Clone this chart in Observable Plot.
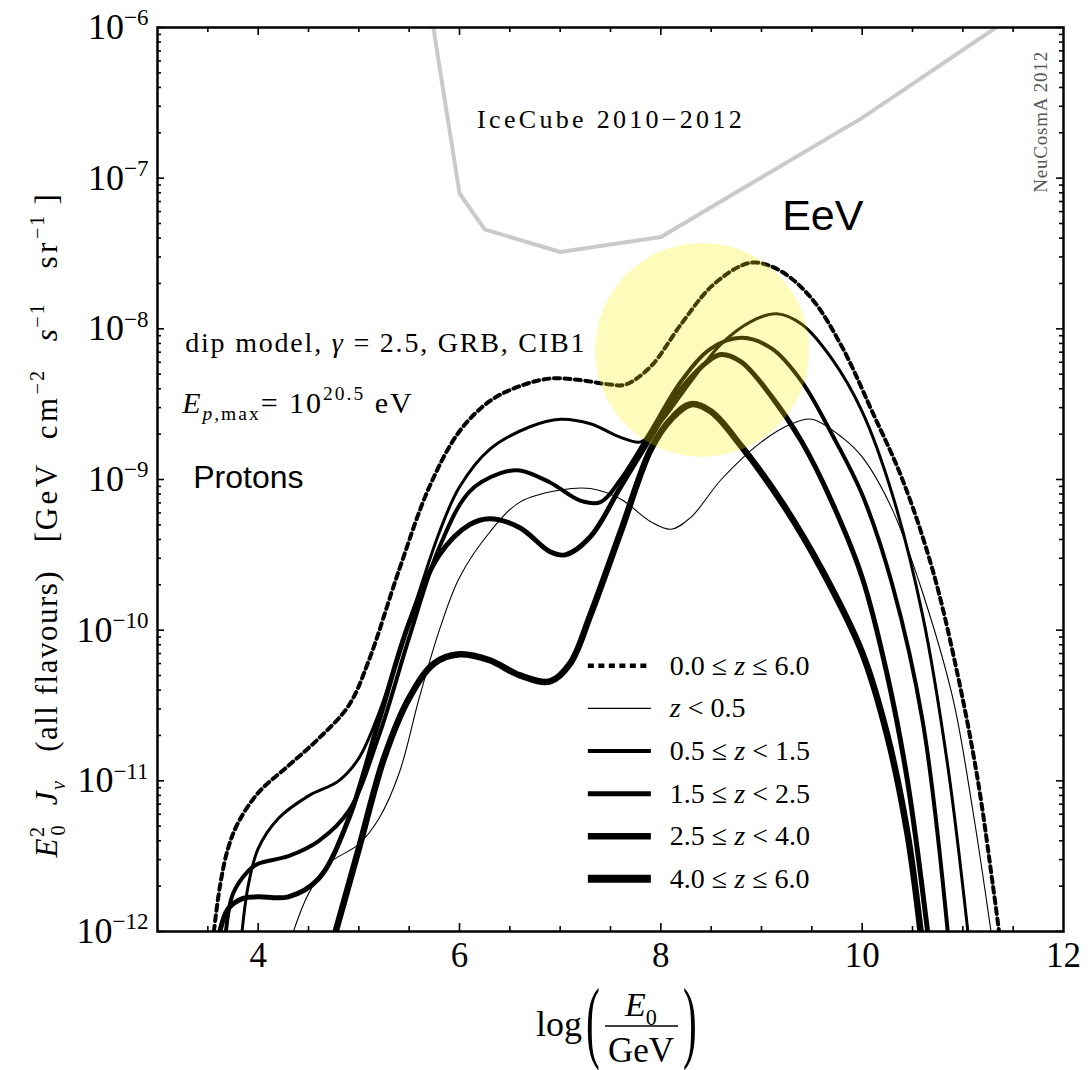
<!DOCTYPE html>
<html><head><meta charset="utf-8">
<script src="https://cdn.jsdelivr.net/npm/d3@7"></script>
<script src="https://cdn.jsdelivr.net/npm/@observablehq/plot@0.6"></script>
<style>
body{margin:0;background:#fff;}
#chart svg{display:block;}
</style>
</head><body><div id="chart"></div>
<script>
// ---------- data (x = log10(E0/GeV), values = log10 of E0^2 J in GeV cm^-2 s^-1 sr^-1) ----------
const seriesLabels = ["0.0 ≤ z ≤ 6.0", "z < 0.5", "0.5 ≤ z < 1.5", "1.5 ≤ z < 2.5", "2.5 ≤ z < 4.0", "4.0 ≤ z ≤ 6.0"];

const xAll = [3.56, 3.62, 3.7, 3.8, 4.0, 4.3, 4.6, 4.9, 5.1, 5.4, 5.7, 6.0, 6.3, 6.6, 6.9, 7.2, 7.5, 7.65, 7.9, 8.2, 8.5, 8.8, 8.95, 9.2, 9.5, 9.8, 10.1, 10.4, 10.7, 10.95, 11.15, 11.3, 11.36];
const logAll = [-12, -11.7, -11.45, -11.28, -11.08, -10.9, -10.72, -10.5, -10.2, -9.6, -9.05, -8.68, -8.48, -8.38, -8.33, -8.34, -8.37, -8.37, -8.25, -7.97, -7.72, -7.58, -7.56, -7.62, -7.8, -8.12, -8.55, -9.0, -9.6, -10.3, -11.0, -11.7, -12];

const xZ0 = [4.35, 4.5, 4.7, 5.0, 5.2, 5.4, 5.6, 5.8, 6.0, 6.3, 6.6, 7.0, 7.3, 7.6, 7.9, 8.1, 8.3, 8.6, 9.0, 9.3, 9.5, 9.8, 10.0, 10.3, 10.6, 10.9, 11.1, 11.28];
const logZ0 = [-12, -11.75, -11.55, -11.42, -11.25, -10.95, -10.45, -10.0, -9.65, -9.35, -9.15, -9.07, -9.06, -9.13, -9.28, -9.33, -9.25, -9.0, -8.75, -8.63, -8.6, -8.72, -8.85, -9.2, -9.75, -10.45, -11.2, -12];

const xZ1 = [3.84, 3.9, 4.0, 4.2, 4.5, 4.8, 5.0, 5.2, 5.5, 5.8, 6.0, 6.3, 6.7, 7.0, 7.3, 7.6, 7.8, 8.0, 8.3, 8.6, 8.9, 9.15, 9.4, 9.7, 10.0, 10.3, 10.6, 10.85, 11.05];
const logZ1 = [-12, -11.7, -11.45, -11.25, -11.1, -11.0, -10.85, -10.55, -9.95, -9.35, -9.05, -8.8, -8.65, -8.6, -8.63, -8.72, -8.75, -8.62, -8.35, -8.1, -7.95, -7.9, -7.97, -8.2, -8.55, -9.1, -9.9, -10.9, -12];

const xZ2 = [3.68, 3.75, 3.9, 4.0, 4.3, 4.6, 4.9, 5.2, 5.5, 5.8, 6.1, 6.4, 6.6, 6.9, 7.2, 7.4, 7.6, 7.9, 8.2, 8.5, 8.8, 9.1, 9.4, 9.7, 10.0, 10.3, 10.6, 10.85];
const logZ2 = [-12, -11.75, -11.6, -11.55, -11.5, -11.4, -11.2, -10.7, -10.05, -9.45, -9.08, -8.96, -8.94, -9.02, -9.14, -9.15, -9.0, -8.68, -8.35, -8.13, -8.06, -8.13, -8.35, -8.7, -9.1, -9.7, -10.6, -12];

const xZ3 = [3.62, 3.7, 3.85, 4.0, 4.3, 4.6, 4.9, 5.2, 5.5, 5.8, 6.1, 6.3, 6.6, 6.9, 7.05, 7.3, 7.6, 7.9, 8.2, 8.5, 8.6, 8.8, 9.1, 9.4, 9.7, 10.0, 10.25, 10.45, 10.65];
const logZ3 = [-12, -11.85, -11.78, -11.77, -11.77, -11.65, -11.25, -10.6, -9.95, -9.5, -9.3, -9.26, -9.32, -9.48, -9.5, -9.38, -9.05, -8.72, -8.4, -8.2, -8.17, -8.22, -8.45, -8.75, -9.15, -9.65, -10.3, -11.0, -12];

const xZ4 = [4.77, 5.0, 5.25, 5.5, 5.75, 6.0, 6.3, 6.6, 6.9, 7.1, 7.3, 7.6, 7.9, 8.1, 8.3, 8.5, 8.8, 9.2, 9.6, 10.0, 10.25, 10.45, 10.58];
const logZ4 = [-12, -11.45, -10.85, -10.45, -10.22, -10.16, -10.2, -10.3, -10.34, -10.22, -9.9, -9.35, -8.8, -8.6, -8.5, -8.55, -8.78, -9.15, -9.6, -10.15, -10.7, -11.35, -12];

const seriesX = [xAll, xZ0, xZ1, xZ2, xZ3, xZ4];
const seriesLog = [logAll, logZ0, logZ1, logZ2, logZ3, logZ4];

// IceCube 2010-2012 sensitivity
const xIceCube = [5.74, 6.0, 6.25, 7.0, 8.0, 10.0, 11.33];
const logIceCube = [-6.0, -7.10, -7.34, -7.49, -7.39, -6.60, -6.0];

// EeV highlight spot (centre)
const spotX = [8.41];
const spotLog = [-8.14];

// axis ticks
const xTickLabels = [4, 6, 8, 10, 12];
const xMajorTicks = [4, 6, 8, 10];
const xMinorTicks = [3.5, 4.5, 5, 5.5, 6.5, 7, 7.5, 8.5, 9, 9.5, 10.5, 11, 11.5];
const yDecades = [-12, -11, -10, -9, -8, -7, -6];
const yMantissas = [2, 3, 4, 5, 6, 7, 8, 9];

// ---------- styles ----------
const lineWidths = [4, 1.1, 3, 4, 5, 6.5];
const legendWidths = [4.5, 1.3, 4, 5, 6.5, 8];
const lineDash = ["6,4.5", null, null, null, null, null];

// ---------- layout ----------
const WIDTH = 1091, HEIGHT = 1070;
const M = {left: 157, right: 28, top: 27, bottom: 139};
const FW = WIDTH - M.left - M.right, FH = HEIGHT - M.top - M.bottom;
const SERIF = "'Liberation Serif', 'Times New Roman', serif";
const SANS = "'Liberation Sans', Arial, sans-serif";

const iceData = xIceCube.map((x, i) => ({x, y: 10 ** logIceCube[i]}));
const seriesData = seriesX.map((xs, s) => xs.map((x, i) => ({x, y: 10 ** seriesLog[s][i]})));
const spotData = spotX.map((x, i) => ({x, y: 10 ** spotLog[i]}));
const yMajor = yDecades.map(e => 10 ** e);
const yMinor = yDecades.slice(0, -1).flatMap(e => yMantissas.map(m => m * 10 ** e));

const marks = [
  Plot.line(iceData, {x: "x", y: "y", stroke: "#cacaca", strokeWidth: 4, clip: true}),
  ...seriesData.map((d, s) => Plot.line(d, {
    x: "x", y: "y", curve: "catmull-rom", stroke: "#000",
    strokeWidth: lineWidths[s], strokeDasharray: lineDash[s] ?? undefined, clip: true
  })),
  Plot.dot(spotData, {x: "x", y: "y", r: 107, fill: "#fff000", fillOpacity: 0.27, stroke: null}),
  // inward ticks on all four sides
  Plot.tickX(xMajorTicks, {x: d => d, insetTop: FH - 8, strokeWidth: 1.6}),
  Plot.tickX(xMinorTicks, {x: d => d, insetTop: FH - 5, strokeWidth: 1.6}),
  Plot.tickX(xMajorTicks, {x: d => d, insetBottom: FH - 8, strokeWidth: 1.6}),
  Plot.tickX(xMinorTicks, {x: d => d, insetBottom: FH - 5, strokeWidth: 1.6}),
  Plot.tickY(yMajor, {y: d => d, insetRight: FW - 7, strokeWidth: 1.6}),
  Plot.tickY(yMinor, {y: d => d, insetRight: FW - 4, strokeWidth: 1.6}),
  Plot.tickY(yMajor, {y: d => d, insetLeft: FW - 7, strokeWidth: 1.6}),
  Plot.tickY(yMinor, {y: d => d, insetLeft: FW - 4, strokeWidth: 1.6}),
  Plot.frame({stroke: "#000", strokeWidth: 2.5}),
  Plot.axisX({ticks: xTickLabels, tickSize: 0, tickPadding: 11, fontSize: 35, label: null, tickFormat: d => String(d)}),
  Plot.axisY({ticks: yMajor, tickSize: 0, tickPadding: 9, fontSize: 36, label: null,
    tickFormat: d => String(Math.round(Math.log10(d)))})
];

const chart = Plot.plot({
  width: WIDTH, height: HEIGHT,
  marginLeft: M.left, marginRight: M.right, marginTop: M.top, marginBottom: M.bottom,
  x: {domain: [3, 12]},
  y: {type: "log", domain: [1e-12, 1e-6]},
  style: {fontFamily: SERIF, background: "#fff", color: "#000"},
  marks
});
document.getElementById("chart").appendChild(chart);

const svg = d3.select(chart);
const sx = chart.scale("x").apply, sy = chart.scale("y").apply;

// y tick labels as 10^n
svg.selectAll('g[aria-label="y-axis tick label"] text').each(function () {
  const e = this.textContent.replace("-", "−");
  const t = d3.select(this);
  t.text(null);
  t.append("tspan").text("10");
  t.append("tspan").attr("dy", "-0.6em").attr("font-size", 23).text(e);
});

// rich text helper
function rich(parent, parts, {x, y, size, anchor = "start", family = SERIF, fill = "#000", rotate = 0, spacing = 0, sx: scx = 1}) {
  const t = parent.append("text")
    .attr("transform", `translate(${x},${y}) rotate(${rotate}) scale(${scx},1)`)
    .attr("text-anchor", anchor).attr("font-family", family)
    .attr("font-size", size).attr("fill", fill)
    .attr("letter-spacing", spacing)
    .style("white-space", "pre");
  let cur = 0;
  for (const p of parts) {
    const fs = p.s ? size * 0.65 : size;
    const off = p.s === "sup" ? -0.42 * size : p.s === "sub" ? 0.25 * size : 0;
    const ts = t.append("tspan").attr("font-size", fs).attr("dy", off - cur).text(p.t);
    cur = off;
    if (p.i) ts.attr("font-style", "italic");
    if (p.dx) ts.attr("dx", p.dx);
    if (p.ls !== undefined) ts.attr("letter-spacing", p.ls);
  }
  return t;
}

const ann = svg.append("g");
// IceCube label
rich(ann, [{t: "IceCube 2010−2012"}], {x: sx(6.18), y: sy(10 ** -6.67), size: 26, spacing: 3.3});
// EeV
rich(ann, [{t: "EeV"}], {x: sx(9.21), y: sy(10 ** -7.35), size: 43, family: SANS});
// NeuCosmA
rich(ann, [{t: "NeuCosmA 2012"}], {x: sx(11.84), y: sy(10 ** -6.63), size: 19, anchor: "middle", rotate: -90, fill: "#555", spacing: 0.8});
// model text
rich(ann, [{t: "dip model, "}, {t: "γ", i: 1}, {t: " = 2.5, GRB, CIB1"}], {x: sx(3.28), y: sy(10 ** -8.16), size: 28, spacing: 1.8});
rich(ann, [{t: "E", i: 1}, {t: "p", i: 1, s: "sub"}, {t: ",max", s: "sub"}, {t: "= 10"}, {t: "20.5", s: "sup"}, {t: " eV"}],
  {x: sx(3.25), y: sy(10 ** -8.56), size: 30, spacing: 2});
rich(ann, [{t: "Protons"}], {x: sx(3.36), y: sy(10 ** -9.06), size: 32, family: SANS});

// legend
const lg = svg.append("g").attr("transform", `translate(${sx(7.28)},${sy(10 ** -10.24)})`);
seriesLabels.forEach((lab, i) => {
  const yy = i * 42.6;
  lg.append("line").attr("x1", 0).attr("x2", 63).attr("y1", yy).attr("y2", yy)
    .attr("stroke", "#000").attr("stroke-width", legendWidths[i])
    .attr("stroke-dasharray", lineDash[i]);
  const pieces = lab.split("z");
  const parts = [];
  pieces.forEach((p, k) => { if (p) parts.push({t: p}); if (k < pieces.length - 1) parts.push({t: "z", i: 1}); });
  rich(lg, parts, {x: 82, y: yy + 9, size: 28});
});

// y axis label
rich(svg, [
  {t: "E", i: 1}, {t: "2", s: "sup"}, {t: "0", s: "sub", dx: -10}, {t: "  J", i: 1}, {t: "ν", i: 1, s: "sub"},
  {t: "   (all flavours)   ["}, {t: "GeV  cm", ls: 3.5}, {t: "−2", s: "sup", ls: 2}, {t: "   "}, {t: "s", i: 1}, {t: "−1", s: "sup", ls: 2},
  {t: "   sr", ls: 3.5}, {t: "−1", s: "sup", ls: 2}, {t: " ]"}
], {x: 57, y: 525, size: 31, anchor: "middle", rotate: -90, spacing: 1.5});

// x axis label: log( E0 / GeV )
rich(svg, [{t: "log"}], {x: 536, y: 1036, size: 36});
rich(svg, [{t: "("}], {x: 593, y: 1051, size: 92, anchor: "middle", sx: 0.45});
rich(svg, [{t: ")"}], {x: 690, y: 1051, size: 92, anchor: "middle", sx: 0.45});
rich(svg, [{t: "E", i: 1}, {t: "0", s: "sub"}], {x: 641, y: 1016, size: 34, anchor: "middle"});
svg.append("line").attr("x1", 605).attr("x2", 678).attr("y1", 1026).attr("y2", 1026).attr("stroke", "#000").attr("stroke-width", 1.6);
rich(svg, [{t: "GeV"}], {x: 641, y: 1062, size: 35, anchor: "middle"});
</script>
</body></html>
